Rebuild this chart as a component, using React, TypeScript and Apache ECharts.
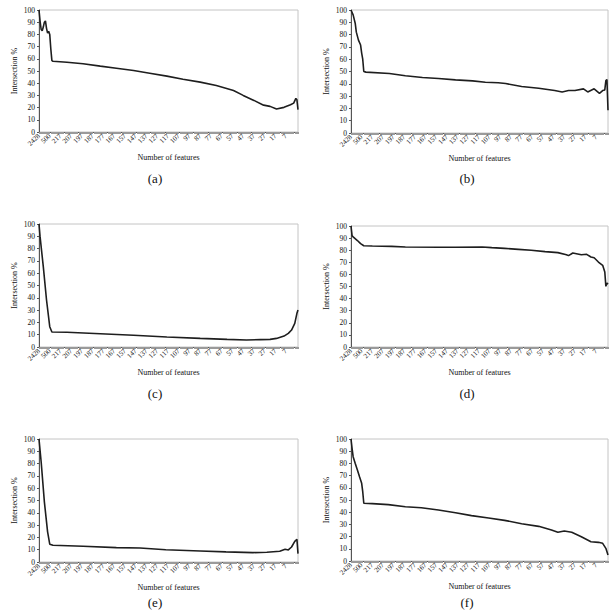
import React, { useEffect, useRef } from "react";
import * as echarts from "echarts";

// ---- categories (number of features) ----
const HEAD_FEATURES = ["2428", "2200", "2000", "1800", "1600", "1400", "1200", "1000", "800", "650",
  "500", "450", "400", "350", "300", "275", "250", "240", "230", "220"];
const MID_FEATURES: string[] = [];
for (let n = 217; n >= 7; n--) MID_FEATURES.push(String(n));
const TAIL_FEATURES = ["6", "5.5", "5", "4.5", "4", "3.5", "3", "2.5", "2", "1.5", "1"];
const FEATURES = [...HEAD_FEATURES, ...MID_FEATURES, ...TAIL_FEATURES];
const LAST_LABELLED = FEATURES.indexOf("7");

// ---- y ticks ----
const Y_MIN = 0;
const Y_MAX = 100;
const Y_STEP = 10;

// ---- series: [category index, intersection %] ----
const PANEL_A: [number, number][] = [
  [0, 100], [1, 91], [2, 84], [3, 83], [4, 86], [5, 90], [6, 91], [7, 85], [8, 81], [9, 82.5], [10, 80],
  [11, 68], [12, 58.5], [13, 58], [26, 57.2], [41, 55.9], [57, 54], [72, 52.3], [88, 50.4], [103, 48.2],
  [119, 45.8], [134, 43.3], [150, 40.9], [165, 38.1], [181, 34], [190, 30], [200, 25.9], [209, 22],
  [215, 21], [221, 18.8], [228, 20.2], [234, 22.3], [237, 23.7], [239, 27.5], [240, 26.4], [241, 18.3],
];
const PANEL_B: [number, number][] = [
  [0, 100], [2, 96], [4, 89], [5, 82], [7, 75.5], [9, 71.5], [10, 65], [11, 60], [12, 50], [14, 49.5],
  [36, 48.4], [51, 46.5], [67, 45.1], [82, 44.3], [98, 43.2], [114, 42.4], [126, 41.3], [138, 40.8],
  [145, 40.2], [160, 37.8], [176, 36.4], [191, 34.5], [198, 33.4], [204, 34.5], [210, 34.5], [218, 35.9],
  [222, 33.4], [228, 35.9], [233, 32.3], [236, 34.5], [238, 35], [239, 42.7], [240, 43.5], [241, 18.5],
];
const PANEL_C: [number, number][] = [
  [0, 100], [1, 89.7], [4, 65.3], [7, 38.2], [10, 16.5], [12, 12.2], [26, 12], [57, 10.8], [88, 9.5],
  [119, 8.1], [150, 7], [175, 6.2], [193, 5.7], [206, 6], [215, 6.2], [221, 7], [228, 8.9], [232, 11.1],
  [235, 13.8], [238, 19.2], [240, 27.4], [241, 30],
];
const PANEL_D: [number, number][] = [
  [0, 100], [1, 92], [2, 91], [6, 88], [9, 85.4], [12, 83.7], [20, 83.5], [38, 83.2], [51, 82.6],
  [82, 82.4], [98, 82.4], [123, 82.6], [132, 82.1], [144, 81.5], [157, 80.7], [169, 79.9], [182, 78.8],
  [194, 78], [202, 76.3], [204, 75.5], [208, 77.7], [216, 76.3], [221, 76.6], [225, 74.4], [228, 73.8],
  [232, 70.2], [236, 67.5], [238, 62], [239, 50.1], [240, 52.9], [241, 51.8],
];
const PANEL_E: [number, number][] = [
  [0, 100], [2, 81.5], [5, 48.9], [8, 24.5], [10, 14.5], [13, 13.6], [41, 12.8], [72, 11.7], [94, 11.4],
  [118, 10], [150, 9], [174, 8.2], [199, 7.6], [212, 7.9], [224, 8.7], [229, 10.3], [232, 9.8],
  [235, 12.2], [238, 16.8], [240, 18.5], [241, 6.8],
];
const PANEL_F: [number, number][] = [
  [0, 100], [1, 92.3], [2, 85.5], [4, 80], [6, 74.6], [8, 69.1], [10, 63.7], [11, 56.8], [12, 47.3],
  [20, 47], [35, 46.2], [51, 44.5], [66, 43.7], [82, 41.8], [98, 39.6], [113, 37.2], [129, 35.2],
  [144, 33.3], [160, 30.6], [176, 28.4], [188, 25.4], [194, 23.5], [200, 24.6], [207, 23.5], [216, 19.9],
  [225, 15.8], [232, 15.3], [236, 14.5], [239, 10.4], [241, 4.9],
];
const SERIES_DATA = [PANEL_A, PANEL_B, PANEL_C, PANEL_D, PANEL_E, PANEL_F];
const CAPTIONS = ["(a)", "(b)", "(c)", "(d)", "(e)", "(f)"];
const X_NAME = "Number of features";
const Y_NAME = "Intersection %";

// ---- layout ----
const GRIDS = [
  { left: 39, top: 10, width: 259, height: 122 },
  { left: 351, top: 10, width: 257, height: 123 },
  { left: 39, top: 224, width: 259, height: 123 },
  { left: 351, top: 226, width: 257, height: 121 },
  { left: 39, top: 439, width: 259, height: 123 },
  { left: 351, top: 439, width: 257, height: 122 },
];
const CAPTION_POS = [
  { x: 155, y: 178 }, { x: 467, y: 178 },
  { x: 155, y: 393 }, { x: 467, y: 393 },
  { x: 155, y: 602 }, { x: 467, y: 602 },
];

const FONT = "Liberation Serif";

export default function App() {
  const ref = useRef<HTMLDivElement>(null);
  useEffect(() => {
    if (!ref.current) return;
    const chart = echarts.init(ref.current, undefined, { renderer: "svg" });
    const option: any = {
      animation: false,
      backgroundColor: "#ffffff",
      grid: GRIDS.map((g) => ({
        ...g,
        show: true,
        borderColor: "#c4c4c4",
        borderWidth: 1,
        backgroundColor: "transparent",
      })),
      xAxis: GRIDS.map((_, i) => ({
        type: "category",
        gridIndex: i,
        data: FEATURES,
        boundaryGap: false,
        name: X_NAME,
        nameLocation: "middle",
        nameGap: 21,
        nameTextStyle: { fontFamily: FONT, fontSize: 8, color: "#111" },
        axisLine: { show: true, lineStyle: { color: "#555", width: 1 } },
        axisTick: { show: true, interval: 0, length: 2, lineStyle: { color: "#9a9a9a", width: 1 } },
        axisLabel: {
          interval: (idx: number) => idx % 10 === 0 && idx <= LAST_LABELLED,
          rotate: 45,
          fontFamily: FONT,
          fontSize: 7,
          color: "#222",
          margin: 3,
        },
        splitLine: { show: false },
      })),
      yAxis: GRIDS.map((_, i) => ({
        type: "value",
        gridIndex: i,
        min: Y_MIN,
        max: Y_MAX,
        interval: Y_STEP,
        name: Y_NAME,
        nameLocation: "middle",
        nameGap: 21,
        nameRotate: 90,
        nameTextStyle: { fontFamily: FONT, fontSize: 8, color: "#111" },
        axisLine: { show: true, lineStyle: { color: "#555", width: 1 } },
        axisTick: { show: true, length: 2, lineStyle: { color: "#555" } },
        axisLabel: { fontFamily: FONT, fontSize: 7.5, color: "#111", margin: 4 },
        splitLine: { show: false },
      })),
      series: SERIES_DATA.map((d, i) => ({
        type: "line",
        xAxisIndex: i,
        yAxisIndex: i,
        data: d,
        showSymbol: false,
        symbol: "none",
        silent: true,
        lineStyle: { color: "#1e1e1e", width: 1.6 },
      })),
      graphic: CAPTIONS.map((c, i) => ({
        type: "text",
        x: CAPTION_POS[i].x,
        y: CAPTION_POS[i].y,
        style: {
          text: c,
          fontFamily: FONT,
          fontSize: 13,
          fill: "#111",
          textAlign: "center",
          textVerticalAlign: "middle",
        },
      })),
    };
    chart.setOption(option);
    return () => chart.dispose();
  }, []);
  return (
    <div
      ref={ref}
      style={{ position: "fixed", left: 0, top: 0, width: 615, height: 610, background: "#fff" }}
    />
  );
}
